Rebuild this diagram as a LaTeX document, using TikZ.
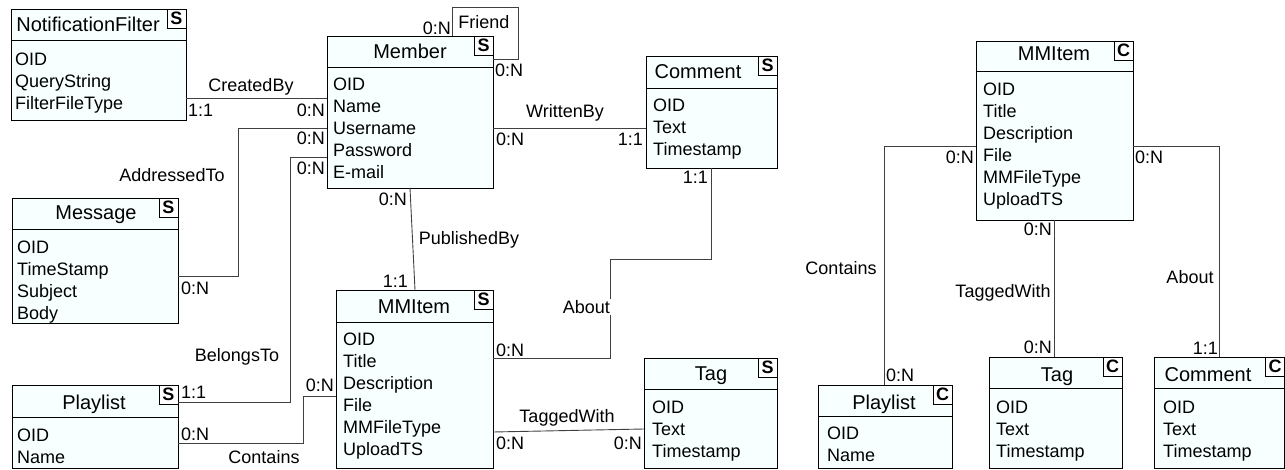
\documentclass[tikz,border=0pt]{standalone}
\usepackage{fontspec}
\setmainfont{Liberation Sans}
\definecolor{entfill}{RGB}{248,255,255}
\tikzset{
  entbox/.style={draw=black, line width=0.9pt, fill=entfill, inner sep=0pt, outer sep=0pt, anchor=north west},
  divline/.style={draw=black, line width=0.9pt},
  letterbox/.style={draw=black, line width=0.9pt, fill=white, inner sep=0pt, outer sep=0pt,
    minimum width=19pt, minimum height=19pt, font=\bfseries\fontsize{18}{18}\selectfont},
  titletext/.style={inner sep=0pt, font=\fontsize{20}{24}\selectfont},
  attrtext/.style={inner sep=0pt, font=\fontsize{18}{22}\selectfont},
  conn/.style={draw=black!75, line width=0.9pt},
  lbl/.style={fill=white, inner sep=1pt, font=\fontsize{18}{22}\selectfont},
  card/.style={inner sep=0pt, font=\fontsize{18}{22}\selectfont},
}
\newcommand\entbox[7]{%
  \node[entbox, minimum width={(#4)-(#2)}, minimum height={(#5)-(#3)}] (#1) at (#2,#3) {};
  \draw[divline] (#1.west |- 0,#6) -- (#1.east |- 0,#6);
  \node[letterbox, anchor=north east] (#1-k) at (#1.north east) {#7};
}
\newcommand\enttitle[4]{\node[titletext, anchor=base] (#1-t) at (#2,#3) {#4};}
\newcommand\entattrs[4]{%
  \foreach \a [count=\i] in {#4} \node[attrtext, anchor=base west] (#1-a\i) at (#2,{#3+22*(\i-1)}) {\a};
}
\begin{document}
\begin{tikzpicture}[x=1pt,y=-1pt]
\useasboundingbox (0,0) rectangle (1285,470);

% ---------------- entities ----------------
\entbox{nf}{11}{9}{186}{120}{40}{S}
\entbox{member}{327}{36}{493}{188}{67}{S}
\entbox{comment}{646}{56}{777}{168}{88}{S}
\entbox{message}{12}{198}{178}{323}{229}{S}
\entbox{playlist}{12}{385}{178}{468}{417}{S}
\entbox{mmitem}{336}{290}{493}{468}{322}{S}
\entbox{tag}{644}{358}{777}{468}{389}{S}
\entbox{mmitemc}{976}{41}{1133}{220}{71}{C}
\entbox{playlistc}{818}{385}{952}{468}{416}{C}
\entbox{tagc}{989}{357}{1122}{468}{388}{C}
\entbox{commentc}{1154}{357}{1284.5}{468}{388}{C}

\enttitle{nf}{88}{32}{NotificationFilter}
\entattrs{nf}{15}{65.5}{OID,QueryString,FilterFileType}
\enttitle{member}{410}{59}{Member}
\entattrs{member}{333}{91}{OID,Name,Username,Password,E-mail}
\enttitle{comment}{698}{79}{Comment}
\entattrs{comment}{653}{111.5}{OID,Text,Timestamp}
\enttitle{message}{96}{220}{Message}
\entattrs{message}{17}{253.5}{OID,TimeStamp,Subject,Body}
\enttitle{playlist}{94}{409}{Playlist}
\entattrs{playlist}{17}{441.5}{OID,Name}
\enttitle{mmitem}{414}{313}{MMItem}
\entattrs{mmitem}{343}{345.5}{OID,Title,Description,File,MMFileType,UploadTS}
\enttitle{tag}{711}{380}{Tag}
\entattrs{tag}{652}{413.5}{OID,Text,Timestamp}
\enttitle{mmitemc}{1054}{61}{MMItem}
\entattrs{mmitemc}{983}{95.5}{OID,Title,Description,File,MMFileType,UploadTS}
\enttitle{playlistc}{884}{409}{Playlist}
\entattrs{playlistc}{827}{439.5}{OID,Name}
\enttitle{tagc}{1057}{381}{Tag}
\entattrs{tagc}{996}{413.5}{OID,Text,Timestamp}
\enttitle{commentc}{1208}{381}{Comment}
\entattrs{commentc}{1163}{413.5}{OID,Text,Timestamp}

% ---------------- connectors (left diagram) ----------------
% CreatedBy
\draw[conn] (nf.east |- 0,98) -- (member.west |- 0,98);
\node[lbl, anchor=base] (l-createdby) at (251,91.5) {CreatedBy};
\node[card, anchor=base west] (c-cb1) at (188,117) {1:1};
\node[card, anchor=base east] (c-cb2) at (325,117) {0:N};
% AddressedTo
\draw[conn] (member.west |- 0,128) -| (238,276) -- (message.east |- 0,276);
\node[lbl, anchor=base] (l-addr) at (172,181.5) {AddressedTo};
\node[card, anchor=base east] (c-ad1) at (325,145) {0:N};
\node[card, anchor=base west] (c-ad2) at (181,294.5) {0:N};
% BelongsTo
\draw[conn] (member.west |- 0,157) -| (290,402) -- (playlist.east |- 0,402);
\node[lbl, anchor=base] (l-belongs) at (237,361.5) {BelongsTo};
\node[card, anchor=base east] (c-bt1) at (325,175) {0:N};
\node[card, anchor=base west] (c-bt2) at (181,398) {1:1};
% Contains (left)
\draw[conn] (playlist.east |- 0,443) -| (303,396) -- (mmitem.west |- 0,396);
\node[lbl, anchor=base] (l-contains) at (264,463.5) {Contains};
\node[card, anchor=base west] (c-co1) at (181,440.5) {0:N};
\node[card, anchor=base east] (c-co2) at (334,391) {0:N};
% PublishedBy
\draw[conn] (member.south -| 410,0) -- (mmitem.north -| 415,0);
\node[lbl, anchor=base] (l-pub) at (469,244.5) {PublishedBy};
\node[card, anchor=base east] (c-pb1) at (407,205.5) {0:N};
\node[card, anchor=base east] (c-pb2) at (408,288) {1:1};
% WrittenBy
\draw[conn] (member.east |- 0,128) -- (comment.west |- 0,128);
\node[lbl, anchor=base] (l-written) at (565,117.5) {WrittenBy};
\node[card, anchor=base west] (c-wb1) at (496,145.5) {0:N};
\node[card, anchor=base east] (c-wb2) at (643,145.5) {1:1};
% About (left)
\draw[conn] (comment.south -| 711,0) -- (711,259) -| (610,358) -- (mmitem.east |- 0,358);
\node[lbl, anchor=base east] (l-about) at (611,313.5) {About};
\node[card, anchor=base east] (c-ab1) at (708,183.5) {1:1};
\node[card, anchor=base west] (c-ab2) at (496,356) {0:N};
% TaggedWith (left)
\draw[conn] (mmitem.east |- 0,432) -- (tag.west |- 0,429);
\node[lbl, anchor=base] (l-tagged) at (567,422.5) {TaggedWith};
\node[card, anchor=base west] (c-tw1) at (496,449.5) {0:N};
\node[card, anchor=base east] (c-tw2) at (642,449.5) {0:N};
% Friend
\draw[conn] (member.north -| 452,0) |- (518,7) |- (member.east |- 0,59);
\node[card, anchor=base] (l-friend) at (484,28.5) {Friend};
\node[card, anchor=base east] (c-fr1) at (451,34.5) {0:N};
\node[card, anchor=base west] (c-fr2) at (495,76.5) {0:N};

% ---------------- right diagram ----------------
\draw[conn] (mmitemc.west |- 0,146) -| (playlistc.north -| 884,0);
\node[lbl, anchor=base] (l-contains2) at (841,274.5) {Contains};
\node[card, anchor=base east] (c-co3) at (974,163.5) {0:N};
\node[card, anchor=base west] (c-co4) at (886,381.5) {0:N};
\draw[conn] (mmitemc.east |- 0,146) -| (commentc.north -| 1219,0);
\node[lbl, anchor=base] (l-about2) at (1190,283.5) {About};
\node[card, anchor=base west] (c-ab3) at (1135,163.5) {0:N};
\node[card, anchor=base east] (c-ab4) at (1218,354) {1:1};
\draw[conn] (mmitemc.south -| 1054,0) -- (tagc.north -| 1054,0);
\node[lbl, anchor=base] (l-tagged2) at (1003,297.5) {TaggedWith};
\node[card, anchor=base east] (c-tw3) at (1052,235.5) {0:N};
\node[card, anchor=base east] (c-tw4) at (1052,353.5) {0:N};
\end{tikzpicture}
\end{document}
